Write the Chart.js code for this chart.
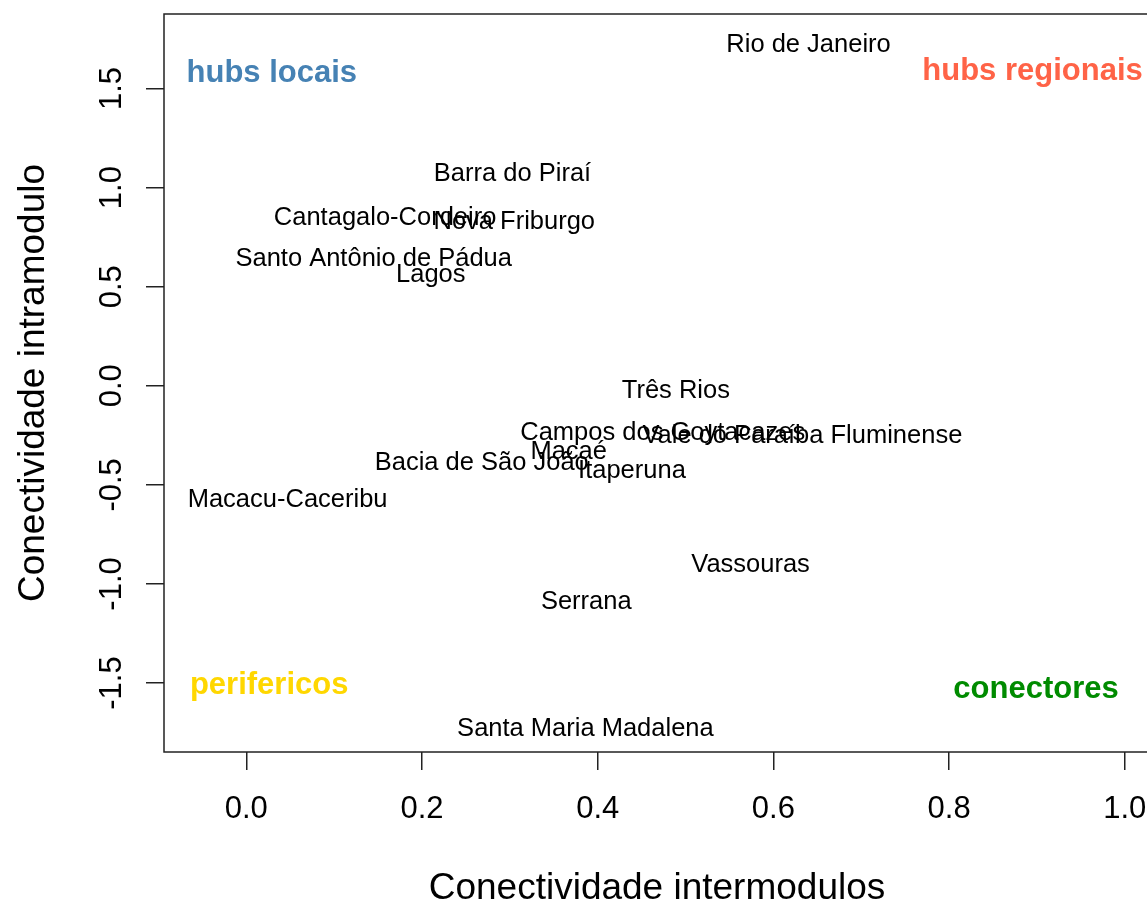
<!DOCTYPE html>
<html>
<head>
<meta charset="utf-8">
<script src="https://cdn.jsdelivr.net/npm/chart.js@4"></script>
<style>
  html, body { margin: 0; padding: 0; background: #fff; overflow: hidden; }
</style>
</head>
<body>
<canvas id="myChart" width="1152" height="900"></canvas>
<script>
const regionNames = [
	"Rio de Janeiro", "Barra do Piraí", "Cantagalo-Cordeiro", "Nova Friburgo",
	"Santo Antônio de Pádua", "Lagos", "Três Rios", "Campos dos Goytacazes",
	"Vale do Paraíba Fluminense", "Macaé", "Bacia de São João", "Itaperuna",
	"Macacu-Caceribu", "Vassouras", "Serrana", "Santa Maria Madalena",
];
const interX = [0.640, 0.303, 0.158, 0.305, 0.145, 0.210, 0.489, 0.474, 0.633, 0.367, 0.268, 0.439, 0.047, 0.574, 0.387, 0.386];
const intraY = [1.728, 1.078, 0.856, 0.836, 0.650, 0.569, -0.016, -0.228, -0.243, -0.324, -0.380, -0.420, -0.564, -0.892, -1.081, -1.724];

const groupNames = ["hubs locais", "hubs regionais", "perifericos", "conectores"];
const groupX = [0.029, 0.895, 0.026, 0.899];
const groupY = [1.59, 1.60, -1.498, -1.521];
const groupColors = ["#4682B4", "#FF6347", "#FFD700", "#008B00"];

const xTicks = [0, 0.2, 0.4, 0.6, 0.8, 1.0];
const yTicks = [-1.5, -1.0, -0.5, 0, 0.5, 1.0, 1.5];

const fontFamily = "'Liberation Sans', Arial, Helvetica, sans-serif";

// writes the names where the (invisible) points are, centred on the caps like R's text()
const textLabels = {
	id: "textLabels",
	afterDatasetsDraw(chart) {
		const c = chart.ctx;
		c.save();
		c.textAlign = "center";
		c.textBaseline = "alphabetic";
		chart.data.datasets.forEach((ds, i) => {
			const meta = chart.getDatasetMeta(i);
			c.font = ds.labelWeight + " " + ds.labelSize + "px " + fontFamily;
			const shift = ds.labelSize * 0.355;
			meta.data.forEach((pt, j) => {
				c.fillStyle = Array.isArray(ds.labelColor) ? ds.labelColor[j] : ds.labelColor;
				c.fillText(ds.labels[j], pt.x, pt.y + shift);
			});
		});
		c.restore();
	},
};

// plot box like R's box()
const plotBox = {
	id: "plotBox",
	afterDraw(chart) {
		const a = chart.chartArea;
		const c = chart.ctx;
		c.save();
		c.strokeStyle = "#222";
		c.lineWidth = 1.5;
		c.strokeRect(a.left, a.top, a.right - a.left, a.bottom - a.top);
		c.restore();
	},
};

const ctx = document.getElementById("myChart");

const myChart = new Chart(ctx, {
	type: "scatter",
	data: {
		datasets: [
			{
				data: interX.map((x, i) => ({ x: x, y: intraY[i] })),
				labels: regionNames,
				labelColor: "#000",
				labelWeight: "normal",
				labelSize: 25.5,
				pointRadius: 0,
			},
			{
				data: groupX.map((x, i) => ({ x: x, y: groupY[i] })),
				labels: groupNames,
				labelColor: groupColors,
				labelWeight: "bold",
				labelSize: 31,
				pointRadius: 0,
			},
		],
	},
	options: {
		responsive: false,
		animation: false,
		events: [],
		layout: { padding: { top: 14, right: 2, bottom: 0, left: 0 } },
		plugins: {
			legend: { display: false },
			tooltip: { enabled: false },
		},
		scales: {
			x: {
				type: "linear",
				min: -0.0937,
				max: 1.0287,
				afterBuildTicks: (s) => { s.ticks = xTicks.map((v) => ({ value: v })); },
				afterFit: (s) => {
					s.height = 148;
					s.paddingLeft = 0;
					s.paddingRight = 0;
				},
				grid: { drawOnChartArea: false, tickLength: 18, color: "#222", lineWidth: 1.5 },
				border: { display: false },
				ticks: {
					color: "#000",
					padding: 21,
					maxRotation: 0,
					font: { family: fontFamily, size: 31 },
					callback: (v) => v.toFixed(1),
				},
				title: {
					display: true,
					text: "Conectividade intermodulos",
					color: "#000",
					font: { family: fontFamily, size: 37, lineHeight: 1 },
					padding: { top: 0, bottom: -7.5 },
				},
			},
			y: {
				type: "linear",
				min: -1.848,
				max: 1.876,
				afterBuildTicks: (s) => { s.ticks = yTicks.map((v) => ({ value: v })); },
				afterFit: (s) => {
					s.width = 164;
					s.paddingTop = 0;
					s.paddingBottom = 0;
				},
				grid: { drawOnChartArea: false, tickLength: 18, color: "#222", lineWidth: 1.5 },
				border: { display: false },
				ticks: {
					color: "#000",
					padding: 7,
					minRotation: 90,
					maxRotation: 90,
					crossAlign: "center",
					font: { family: fontFamily, size: 31 },
					callback: (v) => v.toFixed(1),
				},
				title: {
					display: true,
					text: "Conectividade intramodulo",
					color: "#000",
					font: { family: fontFamily, size: 37, lineHeight: 1 },
					padding: { top: 15, bottom: 0 },
				},
			},
		},
	},
	plugins: [textLabels, plotBox],
});
</script>
</body>
</html>
